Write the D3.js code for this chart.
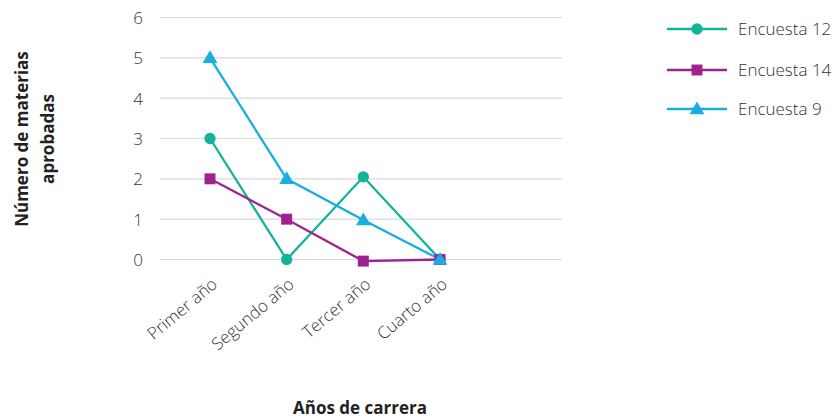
<!DOCTYPE html>
<html><head><meta charset="utf-8">
<script src="https://cdn.jsdelivr.net/npm/d3@7"></script>
<style>body{margin:0;background:#fff;}svg{display:block;}</style>
</head><body>
<script>
const categories = ["Primer año","Segundo año","Tercer año","Cuarto año"];
const seriesNames = ["Encuesta 12","Encuesta 14","Encuesta 9"];
const encuesta12 = [3, 0, 2.05, 0];
const encuesta14 = [2, 1, -0.04, 0];
const encuesta9 = [5, 2, 0.98, 0];
const yTicks = [0,1,2,3,4,5,6];
const yTitle = ["Número de materias","aprobadas"];
const xTitle = "Años de carrera";

const seriesValues = [encuesta12, encuesta14, encuesta9];
const colors = ["#12b398","#9e2290","#1aaee0"];
const symbols = [d3.symbolCircle, d3.symbolSquare, d3.symbolTriangle];
const symSizes = [100, 120, 95];

const W = 834, H = 419;
const svg = d3.select("body").append("svg").attr("width", W).attr("height", H);
const font = "'Open Sans', sans-serif";

const x = d3.scalePoint().domain(categories).range([210, 440]);
const y = d3.scaleLinear().domain([0, 6]).range([259.5, 17.5]);

// gridlines
svg.append("g").selectAll("line").data(yTicks).join("line")
  .attr("x1", 160).attr("x2", 562)
  .attr("y1", d => y(d)).attr("y2", d => y(d))
  .attr("stroke", "#d9d9d9").attr("stroke-width", 1.2);

// y axis labels
const yAxis = svg.append("g").attr("transform", "translate(143,0)")
  .call(d3.axisLeft(y).tickValues(yTicks).tickSize(0).tickPadding(0).tickFormat(d3.format("d")));
yAxis.select(".domain").remove();
yAxis.selectAll("text").attr("font-family", font).attr("font-weight", 300)
  .attr("font-size", 17).attr("fill", "#333").attr("dy", "0.35em");

// x axis labels
const xAxis = svg.append("g").attr("transform", "translate(0,272)")
  .call(d3.axisBottom(x).tickSize(0).tickPadding(0));
xAxis.select(".domain").remove();
xAxis.selectAll("text")
  .attr("font-family", font).attr("font-weight", 300).attr("font-size", 17).attr("fill", "#333")
  .attr("text-anchor", "end").attr("dy", 0).attr("y", 0)
  .attr("transform", "translate(8,14) rotate(-40)");

// lines
const line = d3.line().x((d, i) => x(categories[i])).y(d => y(d));
seriesValues.forEach((vals, s) => {
  svg.append("path").datum(vals).attr("d", line)
    .attr("fill", "none").attr("stroke", colors[s]).attr("stroke-width", 2.3);
});
seriesValues.forEach((vals, s) => {
  svg.append("g").selectAll("path").data(vals).join("path")
    .attr("d", d3.symbol().type(symbols[s]).size(symSizes[s]))
    .attr("transform", (d, i) => `translate(${x(categories[i])},${y(d) + (s === 2 ? 1 : 0)})`)
    .attr("fill", colors[s]);
});

// legend
const legendY = [29, 70, 109];
seriesNames.forEach((name, s) => {
  const g = svg.append("g").attr("transform", `translate(0,${legendY[s]})`);
  g.append("line").attr("x1", 667).attr("x2", 727).attr("y1", 0).attr("y2", 0)
    .attr("stroke", colors[s]).attr("stroke-width", 2.3);
  g.append("path").attr("d", d3.symbol().type(symbols[s]).size(symSizes[s]))
    .attr("transform", `translate(697,${s === 2 ? 1 : 0})`).attr("fill", colors[s]);
  g.append("text").attr("x", 738).attr("y", 0).attr("dy", "0.35em")
    .attr("font-family", font).attr("font-weight", 300).attr("font-size", 17).attr("fill", "#333")
    .text(name);
});

// y title
const yt = svg.append("text").attr("transform", "translate(0,139) rotate(-90)")
  .attr("text-anchor", "middle").attr("font-family", font).attr("font-weight", 700)
  .attr("font-size", 17).attr("fill", "#222");
yt.selectAll("tspan").data(yTitle).join("tspan")
  .attr("x", 0).attr("y", (d, i) => 28 + i * 26).text(d => d);

// x title
svg.append("text").attr("x", 360).attr("y", 414).attr("text-anchor", "middle")
  .attr("font-family", font).attr("font-weight", 700).attr("font-size", 17).attr("fill", "#222")
  .text(xTitle);
</script>
</body></html>
